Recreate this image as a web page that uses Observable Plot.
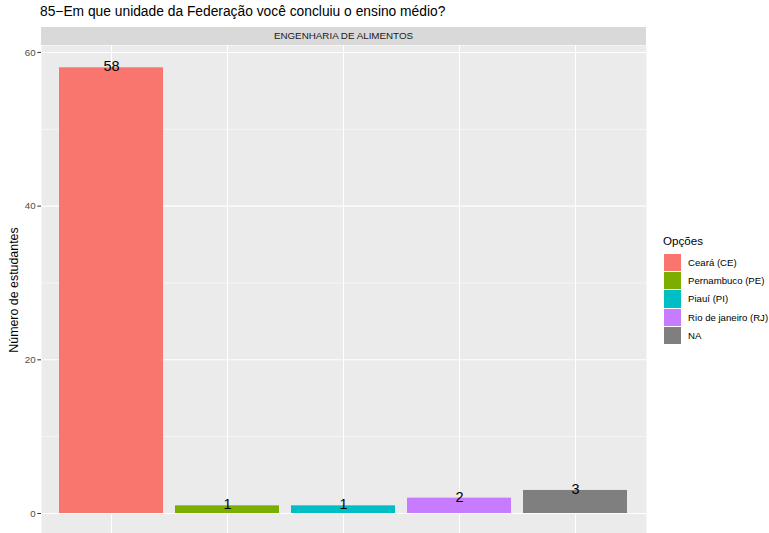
<!DOCTYPE html>
<html><head><meta charset="utf-8">
<script src="https://cdn.jsdelivr.net/npm/d3@7"></script>
<script src="https://cdn.jsdelivr.net/npm/@observablehq/plot@0.6"></script>
<style>
html,body{margin:0;padding:0;background:#fff;overflow:hidden;width:769px;height:533px;font-family:"Liberation Sans",Arial,sans-serif;}
#wrap{position:relative;width:769px;height:533px;}
#title{position:absolute;left:40px;top:4px;font-size:13.8px;line-height:16px;color:#000;white-space:nowrap;}
#strip{position:absolute;left:41px;top:27px;width:605px;height:18px;background:#D9D9D9;color:#1A1A1A;font-size:9.8px;text-align:center;line-height:18px;}
#ylab{position:absolute;left:14px;top:290px;transform:translate(-50%,-50%) rotate(-90deg);font-size:12.4px;white-space:nowrap;color:#000;}
#legend{position:absolute;left:663px;top:233px;font-size:9.6px;color:#000;}
#legend .lt{font-size:11.6px;margin-bottom:4px;line-height:16px;}
#legend .row{display:flex;align-items:center;height:18.4px;}
#legend .sw{width:17.6px;height:17.4px;margin-left:0.5px;margin-right:7px;}
#chart{position:absolute;left:0;top:0;}
#chart svg g[aria-label="y-axis tick label"] text{fill:#4D4D4D;}
</style></head>
<body><div id="wrap">
<div id="chart"></div>
<div id="title">85−Em que unidade da Federação você concluiu o ensino médio?</div>
<div id="strip">ENGENHARIA DE ALIMENTOS</div>
<div id="ylab">Número de estudantes</div>
<div id="legend"></div>
</div>
<script>
const categories = ["Ceará (CE)", "Pernambuco (PE)", "Piauí (PI)", "Rio de janeiro (RJ)", "NA"];
const values = [58, 1, 1, 2, 3];
const colors = ["#F8766D", "#7CAE00", "#00BFC4", "#C77CFF", "#7F7F7F"];
const yTicks = [0, 20, 40, 60];
const yMinor = [10, 30, 50];
const legendTitle = "Opções";

const data = categories.map((c, i) => ({cat: c, value: values[i]}));

const chart = Plot.plot({
  width: 769,
  height: 536,
  marginTop: 45,
  marginBottom: 0.7,
  marginLeft: 41,
  marginRight: 123,
  style: {fontFamily: "Liberation Sans, Arial, sans-serif", background: "transparent"},
  x: {type: "band", domain: categories, paddingInner: 0.1, paddingOuter: 0.15, axis: null},
  y: {domain: [-2.9, 60.9], axis: null},
  color: {domain: categories, range: colors},
  marks: [
    Plot.frame({fill: "#EBEBEB", stroke: null}),
    Plot.gridY(yMinor, {stroke: "#fff", strokeOpacity: 1, strokeWidth: 0.53}),
    Plot.gridY(yTicks, {stroke: "#fff", strokeOpacity: 1, strokeWidth: 1.07}),
    Plot.gridX(categories, {stroke: "#fff", strokeOpacity: 1, strokeWidth: 1.07}),
    Plot.barY(data, {x: "cat", y1: 0, y2: "value", fill: "cat"}),
    Plot.text(data, {x: "cat", y: "value", text: d => String(d.value), fontSize: 14.5, fill: "#000", dy: -1}),
    Plot.axisY(yTicks, {tickSize: 3.7, tickPadding: 2.2, fontSize: 9.7, color: "#333", label: null})
  ]
});
document.getElementById("chart").appendChild(chart);

const lg = document.getElementById("legend");
const t = document.createElement("div"); t.className = "lt"; t.textContent = legendTitle; lg.appendChild(t);
categories.forEach((c, i) => {
  const r = document.createElement("div"); r.className = "row";
  const s = document.createElement("div"); s.className = "sw"; s.style.background = colors[i];
  const l = document.createElement("span"); l.textContent = c;
  r.appendChild(s); r.appendChild(l); lg.appendChild(r);
});
</script>
</body></html>
